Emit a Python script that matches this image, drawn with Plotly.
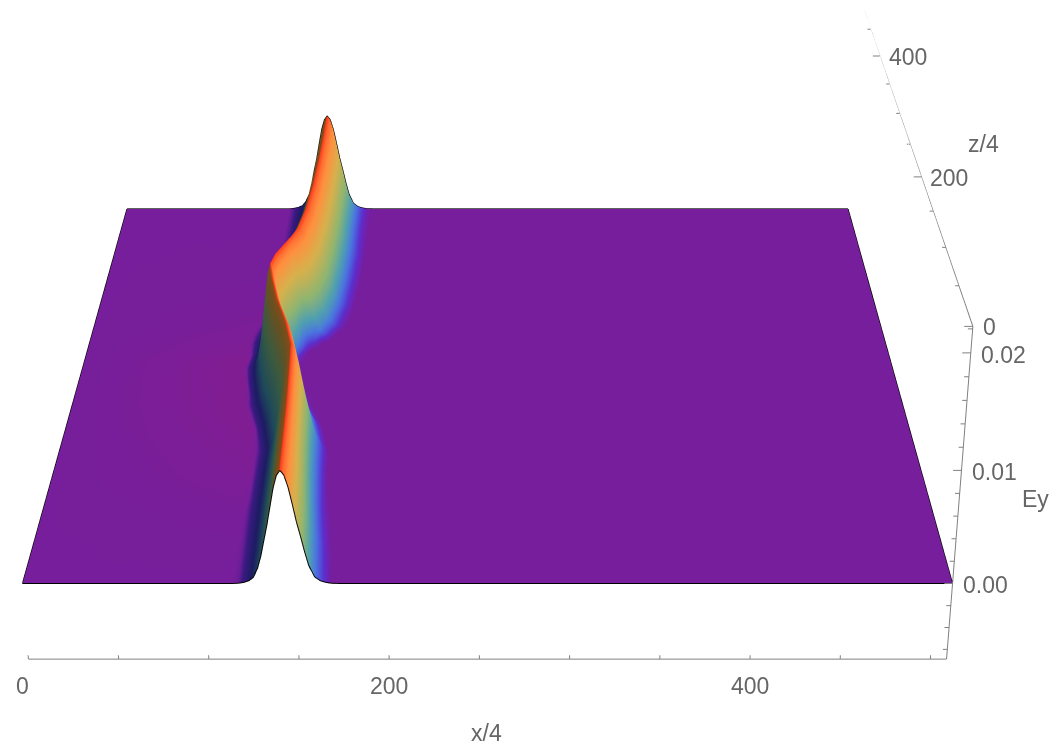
import numpy as np
import plotly.graph_objects as go

# ---- data ----
z_vals = [0, 40, 80, 120, 150, 180, 210, 240, 260, 275, 285, 295, 305, 320, 350, 390, 430, 470, 510]
# the ridge crest and the feet of the pulse on each z row
crest_x = [143, 142.5, 142, 141, 140, 135, 128, 123, 120.5, 122.5, 125, 127.5, 130, 134, 137.5, 140, 141.5, 142.5, 143]
left_foot = [117.35, 116.85, 116.35, 116.7, 117.05, 113.4, 107.75, 104.1, 102.95, 103.6, 103.4, 103.2, 104.35, 107, 110.5, 113, 114.5, 115.5, 116]
right_foot = [169, 166.5, 163, 161, 160, 155, 146, 139, 135.5, 137.5, 141, 148.5, 156, 162, 166.5, 169, 170.5, 170.5, 171]
# slightly more magenta tone of the flat part left of the ridge, per z row
left_tint = [-1, -1.01, -1.04, -1.08, -1.1, -1.12, -1.13, -1.13, -1.13, -1.12, -1.1, -1.09, -1.08, -1.06, -1.04, -1.02, -1.01, -1, -1]
# sample columns: the two far edges, and distances from the crest
x_edges = [0, 509]
crest_offsets = [-28, -25, -22, -19, -16.5, -14, -12, -10, -8, -6, -4, -2, 0, 2, 4, 6, 8, 10, 12, 14, 17, 20, 23, 26, 30, 34, 40]
# Ey in units of 1e-4 at those offsets, one row per z value
ey_e4 = [
    [0, 0.2, 0.9, 2.5, 5.5, 13.8, 24.4, 38.5, 52.4, 68.6, 84.5, 95.6, 100, 96, 86, 71, 55, 42, 28, 16, 6, 2.5, 1, 0.2, 0, 0, 0],
    [0, 0.2, 0.9, 2.5, 5.5, 13.8, 24.4, 38.5, 52.4, 68.6, 84.5, 95.6, 100, 96, 86, 71, 55, 42, 28, 16, 6, 2.5, 1, 0.2, 0, 0, 0],
    [0, 0.2, 0.9, 2.5, 5.6, 13.9, 24.6, 38.9, 52.9, 69.3, 85.3, 96.6, 101, 97, 86.9, 71.7, 55.6, 42.4, 28.3, 16.2, 6.1, 2.5, 1, 0.2, 0, 0, 0],
    [0, 0, 0.7, 1.9, 4.5, 11.7, 20.6, 35, 50, 66.7, 84.7, 96.9, 102, 97.5, 86.2, 70, 53.4, 39.3, 24.9, 14.1, 4.7, 2, 0.7, 0, 0, 0, 0],
    [0, 0, 0.2, 1.3, 3.2, 8.2, 16.2, 30.3, 47.4, 64.4, 83.2, 97.1, 103, 97.9, 85.5, 67.4, 50.5, 35.3, 20.8, 11.8, 3.7, 1.4, 0.3, 0, 0, 0, 0],
    [0, 0, 0, 0.8, 2.1, 5.6, 13.2, 25.8, 43.3, 60.8, 80.9, 96.3, 103, 97.9, 85.5, 67.4, 50.5, 35.3, 20.8, 11.8, 3.7, 1.4, 0.3, 0, 0, 0, 0],
    [0, 0, 0, 0.4, 1.6, 4.1, 10, 21, 38.8, 57.2, 79, 96.3, 104, 96.3, 79, 57.2, 38.8, 21, 10, 4.1, 1.2, 0, 0, 0, 0, 0, 0],
    [0, 0, 0, 0, 0.8, 2.6, 6.1, 15.5, 33.3, 53, 76.1, 95.4, 104, 94.1, 72.2, 48.9, 27, 11.8, 4.3, 1.8, 0.2, 0, 0, 0, 0, 0, 0],
    [0, 0, 0, 0, 0.3, 1.8, 4.3, 11.8, 27, 48.9, 72.2, 94.1, 104, 93.1, 68, 43.7, 20.8, 7.3, 2.6, 0.9, 0, 0, 0, 0, 0, 0, 0],
    [0, 0, 0, 0, 0.8, 2.6, 6.1, 15.3, 33, 52.5, 75.4, 94.5, 103, 92.2, 67.4, 43.3, 20.6, 7.2, 2.6, 0.9, 0, 0, 0, 0, 0, 0, 0],
    [0, 0, 0, 0.8, 2, 5.5, 13.1, 25.5, 42.8, 60.2, 80.1, 95.4, 102, 92.3, 70.8, 47.9, 26.5, 11.5, 4.2, 1.7, 0.2, 0, 0, 0, 0, 0, 0],
    [0, 0, 0.7, 1.9, 4.4, 11.6, 20.4, 34.6, 49.5, 66.1, 83.8, 96, 101, 96, 83.8, 66.1, 49.5, 34.6, 20.4, 11.6, 3.6, 1.4, 0.3, 0, 0, 0, 0],
    [0, 0.2, 0.9, 2.5, 5.5, 13.8, 24.4, 38.5, 52.4, 68.6, 84.5, 95.6, 100, 96.2, 87, 73.3, 58.2, 45.3, 32.2, 20.2, 7.6, 3.5, 1.5, 0.5, 0, 0, 0],
    [0, 0.5, 1.5, 3.5, 8, 16, 28, 42, 55, 71, 86, 96, 100, 96.4, 88, 75, 60.6, 47.9, 35.7, 23.8, 10.4, 4.5, 2, 0.8, 0, 0, 0],
    [0, 0.5, 1.5, 3.5, 8, 16, 28, 42, 55, 71, 86, 96, 100, 96.4, 88, 75, 60.6, 47.9, 35.7, 23.8, 10.4, 4.5, 2, 0.8, 0, 0, 0],
    [0, 0.5, 1.5, 3.5, 8, 16, 28, 42, 55, 71, 86, 96, 100, 96.4, 88, 75, 60.6, 47.9, 35.7, 23.8, 10.4, 4.5, 2, 0.8, 0, 0, 0],
    [0, 0.5, 1.5, 3.5, 8, 16, 28, 42, 55, 71, 86, 96, 100, 96.4, 88, 75, 60.6, 47.9, 35.7, 23.8, 10.4, 4.5, 2, 0.8, 0, 0, 0],
    [0, 0.5, 1.5, 3.5, 8, 16, 28, 42, 55, 71, 86, 96, 100, 96.2, 87, 73.3, 58.2, 45.3, 32.2, 20.2, 7.6, 3.5, 1.5, 0.5, 0, 0, 0],
    [0, 0.5, 1.5, 3.5, 8, 16, 28, 42, 55, 71, 86, 96, 100, 96, 86, 71, 55, 42, 28, 16, 6, 2.5, 1, 0.2, 0, 0, 0],
]

x_ticks = [0, 50, 100, 150, 200, 250, 300, 350, 400, 450, 500]
x_labels = {0: "0", 200: "200", 400: "400"}
z_ticks = [0, 50, 100, 150, 200, 250, 300, 350, 400, 450, 500]
z_labels = {0: "0", 200: "200", 400: "400"}
ey_ticks = [-0.006, -0.004, -0.002, 0.0, 0.002, 0.004, 0.006, 0.008, 0.01, 0.012, 0.014, 0.016, 0.018, 0.02, 0.022]
ey_labels = {0.0: "0.00", 0.01: "0.01", 0.02: "0.02"}

X_RANGE = [0, 509]
Z_RANGE = [0, 510]
EY_RANGE = [-0.0069, 0.0222]

PURPLE = "#761e9c"
GRAY = "#808080"
TEXT = "#666666"
stops = [(-1.2, "#861d8e"), (-1, PURPLE), (-0.88, "#3a1a80"), (-0.7, "#1c1c62"), (-0.5, "#1f4a5a"), (-0.3, "#3a5a40"),
         (-0.12, "#6a5020"), (-0.03, "#8a4a18"), (-0.005, "#ff3a1e"), (0.06, "#ff6a30"), (0.15, "#ff9040"),
         (0.27, "#d8b04c"), (0.42, "#8fb570"), (0.55, "#50a0b0"), (0.68, "#4a75e0"), (0.85, "#5a30d0"),
         (0.95, "#7022b0"), (1, PURPLE)]

zs = np.array(z_vals, dtype=float)
offsets = np.array(crest_offsets, dtype=float)
rows = len(zs)
# surface columns run along the crest, so each row has its own x positions
xg = np.column_stack([np.full(rows, x_edges[0])] +
                     [np.array(crest_x) + o for o in offsets] +
                     [np.full(rows, x_edges[1])]).astype(float)
zg = np.tile(zs[:, None], (1, xg.shape[1]))
ey = np.column_stack([np.zeros(rows), np.array(ey_e4, dtype=float) * 1e-4, np.zeros(rows)])
band = np.array([np.interp(xg[i], [left_foot[i], crest_x[i], right_foot[i]], [-1, 0, 1]) for i in range(rows)])
for i in range(rows):
    flat = band[i] == -1
    flat[0] = False
    band[i][flat] = left_tint[i]
CMIN = stops[0][0]

fig = go.Figure()
fig.add_trace(go.Surface(
    x=xg, y=zg, z=ey, surfacecolor=band, cmin=CMIN, cmax=1,
    colorscale=[[(t - CMIN) / (1 - CMIN), c] for t, c in stops], showscale=False, hoverinfo="skip",
    lighting=dict(ambient=1, diffuse=0, specular=0, roughness=1, fresnel=0),
    contours=dict(x=dict(highlight=False), y=dict(highlight=False), z=dict(highlight=False)),
))


def line3d(xv, yv, zv, color="black", width=2):
    fig.add_trace(go.Scatter3d(x=xv, y=yv, z=zv, mode="lines", line=dict(color=color, width=width),
                               hoverinfo="skip", showlegend=False))


# outline of the surface
line3d(xg[0], zg[0], ey[0])
line3d(xg[-1], zg[-1], ey[-1])
line3d(xg[:, 0], zs, ey[:, 0])
line3d(xg[:, -1], zs, ey[:, -1])

# axes
xmax = X_RANGE[1]
eylo, eyhi = EY_RANGE
line3d(X_RANGE, [0, 0], [eylo, eylo], GRAY, 2)
line3d([xmax, xmax], [0, 0], EY_RANGE, GRAY, 2)
line3d([xmax, xmax], Z_RANGE, [eyhi, eyhi], GRAY, 2)


def ticks(points):
    a, b, c = [], [], []
    for p, q in points:
        a += [p[0], q[0], None]
        b += [p[1], q[1], None]
        c += [p[2], q[2], None]
    line3d(a, b, c, GRAY, 2)


ticks([((t, 0, eylo), (t, 0, eylo + 0.00035)) for t in x_ticks])
ticks([((xmax, t, eyhi), (xmax - (4.5 if t in z_labels else 2), t, eyhi)) for t in z_ticks])
ticks([((xmax, 0, t), (xmax - (4.5 if t in ey_labels else 2.5), 0, t)) for t in ey_ticks])

notes = []
for t, s in x_labels.items():
    notes.append(dict(x=t, y=0, z=eylo, text=s, yshift=-27, xshift=(-6 if t == 0 else 0)))
for t, s in z_labels.items():
    notes.append(dict(x=xmax, y=t, z=eyhi, text=s, xshift=28 if t else 17, yshift=-1))
for t, s in ey_labels.items():
    notes.append(dict(x=xmax, y=0, z=t, text=s, xshift=33, yshift=-2))
notes.append(dict(x=254, y=0, z=eylo, text="x/4", yshift=-74))
notes.append(dict(x=xmax, y=250, z=eyhi, text="z/4", xshift=73, yshift=0))
notes.append(dict(x=xmax, y=0, z=0.0075, text="Ey", xshift=76, yshift=0))
for n in notes:
    n.update(showarrow=False, font=dict(family="Liberation Sans", size=23, color=TEXT))

blank = dict(visible=False, showgrid=False, zeroline=False, showline=False, showticklabels=False,
             showbackground=False, showspikes=False, title="")
fig.update_layout(
    width=1050, height=2972, margin=dict(l=0, r=0, t=8, b=0), paper_bgcolor="white", showlegend=False,
    scene=dict(
        domain=dict(x=[0, 0.92857], y=[0, 1]),
        xaxis=dict(range=X_RANGE, **blank),
        yaxis=dict(range=Z_RANGE, **blank),
        zaxis=dict(range=EY_RANGE, **blank),
        aspectmode="manual",
        aspectratio=dict(x=1, y=1.374, z=0.3617),
        camera=dict(projection=dict(type="perspective"), up=dict(x=0, y=0, z=1),
                    eye=dict(x=0, y=-4.379, z=1.3597), center=dict(x=0, y=-0.319, z=-1.5603)),
        annotations=notes,
    ),
)
fig.write_html("out.html", default_width="1050px", default_height="2972px",
               config=dict(displayModeBar=False),
               post_script="document.body.style.margin='0';")
